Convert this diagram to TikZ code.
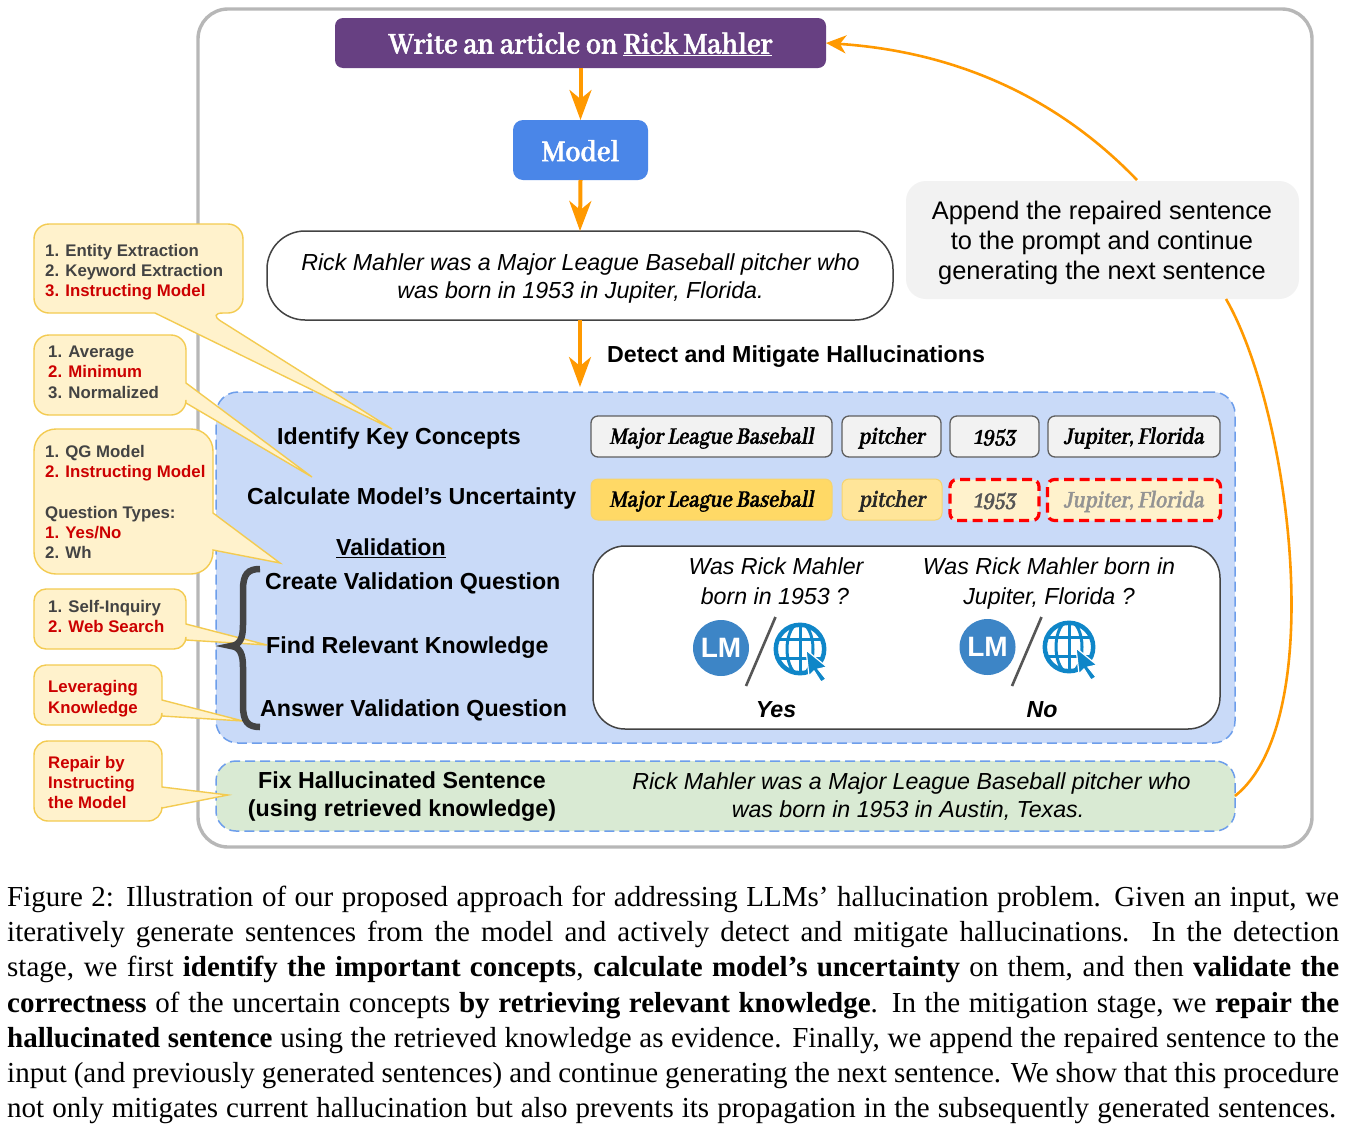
\documentclass[tikz,border=0pt]{standalone}
\usepackage{fontspec}
\usetikzlibrary{arrows.meta}
\setmainfont{Liberation Serif}
\newfontfamily\sansf{Liberation Sans}
\newfontfamily\headf[FakeBold=1.6,FakeStretch=0.91]{Abhaya Libre}
\newfontfamily\chipf[FakeBold=1.6,FakeSlant=0.18,FakeStretch=0.85]{Abhaya Libre}
\definecolor{orangeA}{HTML}{FF9900}
\definecolor{frameG}{HTML}{B7B7B7}
\definecolor{blueF}{HTML}{C9DAF8}
\definecolor{blueD}{HTML}{6D9EEB}
\definecolor{greenF}{HTML}{D9EAD3}
\definecolor{purp}{HTML}{674082}
\definecolor{modelB}{HTML}{4A86E8}
\definecolor{dk}{HTML}{434343}
\definecolor{redT}{HTML}{CC0000}
\definecolor{calF}{HTML}{FFF2CC}
\definecolor{calD}{HTML}{F1C232}
\definecolor{chipA}{HTML}{FFD966}
\definecolor{chipB}{HTML}{FFE599}
\definecolor{lmB}{HTML}{3D85C6}
\definecolor{webB}{HTML}{0F86C8}
\newcommand\sz[1]{\fontsize{#1}{#1}\selectfont}
\newcommand\capline[3]{\node[anchor=base west,inner sep=0pt] (#1) at (7,#2) {\sz{29}\hbox to 1332pt{#3}};}
\newcommand\capend[3]{\node[anchor=base west,inner sep=0pt] (#1) at (7,#2) {\sz{29}\hbox to 1329pt{#3}};}
\newcommand\webicon[4]{%
 \begin{scope}[shift={(#1,#2)}]
  \begin{scope}
   \clip (0,0) circle (26);
   \draw[webB,line width=3pt] (0,0) ellipse (13 and 26);
   \draw[webB,line width=3pt] (0,-26)--(0,26) (-26,-10)--(26,-10) (-26,9)--(26,9);
  \end{scope}
  \draw[webB,line width=4.5pt] (0,0) circle (24.2);
  \draw[fill=webB,draw=white,line width=1.2pt] (#3,#4)--++(21,17)--++(-9,2)--++(8,10)--++(-5,3)--++(-7,-11)--++(-5,5)--cycle;
 \end{scope}}
\tikzset{
 bx/.style={inner sep=0pt,outer sep=0pt,rectangle},
 strutted/.style={text height=7.2pt,text depth=2pt,inner sep=0pt},
 lbl/.style={font=\sansf\bfseries\sz{23.2},text=black,strutted,yshift=-6pt},
 itl/.style={font=\sansf\itshape\sz{23.2},text=black,strutted,yshift=-6pt},
 gr/.style={font=\sansf\sz{25.4},strutted,yshift=-6pt},
 calltxt/.style={font=\sansf\bfseries\sz{16.8},anchor=west,text=dk,strutted,yshift=-4pt},
 callred/.style={calltxt,text=redT},
 callout/.style={fill=calF,draw=calD!85!white,line width=1.4pt,line join=miter},
 flow/.style={draw=orangeA,line width=4pt,-{Stealth[length=30pt,width=22pt,inset=9pt]}},
 back/.style={draw=orangeA,line width=2.6pt},
 chip/.style={bx,rounded corners=7pt,minimum height=41pt,font=\chipf\bfseries\sz{26},text height=14.5pt,text depth=0pt},
 chipg/.style={chip,fill=gray!10,draw=dk!85!white,line width=1.3pt},
 chipy/.style={chip,draw=calD!70!white,line width=1pt},
 chipr/.style={chip,fill=calF,draw=red,dashed,dash pattern=on 10pt off 5.5pt,line width=3.2pt},
}
\begin{document}
\begin{tikzpicture}[x=1pt,y=-1pt]
\useasboundingbox[fill=white] (0,0) rectangle (1349,1130);
% frame
\draw[frameG,line width=3.4pt,rounded corners=30pt] (198,9) rectangle (1312,847);
% regions
\node[bx,fill=blueF,draw=blueD,dashed,dash pattern=on 10pt off 5pt,line width=1.5pt,rounded corners=22pt,minimum width=1019pt,minimum height=351pt] (detect) at (725.5,567.5) {};
\node[bx,fill=greenF,draw=blueD,dashed,dash pattern=on 10pt off 5pt,line width=1.5pt,rounded corners=20pt,minimum width=1019pt,minimum height=70pt] (fix) at (725.5,796) {};
% top boxes
\node[bx,fill=purp,rounded corners=8pt,minimum width=491pt,minimum height=50pt,text=white,font=\headf\bfseries\sz{33},text height=21pt,text depth=0pt] (prompt) at (580.5,43) {Write an article on \underline{Rick Mahler}};
\node[bx,fill=modelB,rounded corners=10pt,minimum width=135pt,minimum height=60pt,text=white,font=\headf\bfseries\sz{33},text height=22pt,text depth=0pt] (model) at (580.5,150) {Model};
\node[bx,fill=white,draw=dk,line width=1.5pt,rounded corners=38pt,minimum width=626pt,minimum height=89pt] (pill) at (580,275.5) {};
\node[itl] (p1) at (580.5,262) {Rick Mahler was a Major League Baseball pitcher who};
\node[itl] (p2) at (580.5,290) {was born in 1953 in Jupiter, Florida.};
\node[bx,fill=gray!10,rounded corners=20pt,minimum width=393pt,minimum height=118pt] (append) at (1102.5,240) {};
\node[gr] (a1) at (1102,211) {Append the repaired sentence};
\node[gr] (a2) at (1102,241) {to the prompt and continue};
\node[gr] (a3) at (1102,271) {generating the next sentence};
% arrows
\coordinate (detecttop) at (580,387);
\draw[flow] (prompt.south) -- (model.north);
\draw[flow] (model.south) -- (pill.north);
\draw[flow] (pill.south) -- (detecttop);
\coordinate (aout) at (1137,180);
\draw[back,-{Stealth[length=20pt,width=18pt,inset=6pt]}] (aout) .. controls (1060,100) and (960,52) .. (prompt.east |- 0,43);
\coordinate (aback) at (1226,299);
\coordinate (fixout) at (1235,796);
\draw[back] (aback) .. controls (1290,410) and (1330,720) .. (fixout);
\node[lbl,anchor=west] (dm) at (607,354) {Detect and Mitigate Hallucinations};
% labels
\node[lbl,anchor=west] (l1) at (277,436) {Identify Key Concepts};
\node[lbl,anchor=west] (l2) at (247,496) {Calculate Model’s Uncertainty};
\node[lbl,anchor=west] (l3) at (336,547) {\underline{Validation}};
\node[lbl,anchor=west] (l4) at (265,581) {Create Validation Question};
\node[lbl,anchor=west] (l5) at (266,645) {Find Relevant Knowledge};
\node[lbl,anchor=west] (l6) at (260,708) {Answer Validation Question};
\node[lbl] (f1) at (402,780) {Fix Hallucinated Sentence};
\node[lbl] (f2) at (402,808) {(using retrieved knowledge)};
\node[itl] (g1) at (911.5,781) {Rick Mahler was a Major League Baseball pitcher who};
\node[itl] (g2) at (908,809) {was born in 1953 in Austin, Texas.};
% chips
\node[chipg,minimum width=241pt] (c1) at (711.5,436.5) {Major League Baseball};
\node[chipg,minimum width=99pt] (c2) at (891.5,436.5) {pitcher};
\node[chipg,minimum width=89pt] (c3) at (994.5,436.5) {1953};
\node[chipg,minimum width=172pt] (c4) at (1134,436.5) {Jupiter, Florida};
\node[chipy,fill=chipA,minimum width=241pt] (d1) at (711.5,499.5) {Major League Baseball};
\node[chipy,fill=chipB,minimum width=100pt,text=black!85] (d2) at (892,499.5) {pitcher};
\node[chipr,minimum width=89pt,text=dk!90] (d3) at (994.5,500) {1953};
\node[chipr,minimum width=173pt,text=gray!85] (d4) at (1134,500) {Jupiter, Florida};
% questions
\node[bx,fill=white,draw=dk,line width=1.5pt,rounded corners=32pt,minimum width=627pt,minimum height=183pt] (qbox) at (906.5,637.5) {};
\node[itl] (q1) at (776,566) {Was Rick Mahler};
\node[itl] (q2) at (775,596) {born in 1953 ?};
\node[itl] (q3) at (1049,566) {Was Rick Mahler born in};
\node[itl] (q4) at (1049,596) {Jupiter, Florida ?};
\node[font=\sansf\bfseries\itshape\sz{23.2},strutted,yshift=-6pt] (y) at (776,709) {Yes};
\node[font=\sansf\bfseries\itshape\sz{23.2},strutted,yshift=-6pt] (n) at (1042,709) {No};
\node[circle,fill=lmB,minimum size=56pt,inner sep=0pt,text=white,font=\sansf\bfseries\sz{28}] (lm1) at (721,648) {LM};
\node[circle,fill=lmB,minimum size=56pt,inner sep=0pt,text=white,font=\sansf\bfseries\sz{28}] (lm2) at (987.5,647) {LM};
\draw[dk!90!white,line width=2.6pt] (746,686) -- (775.5,617);
\draw[dk!90!white,line width=2.6pt] (1012,686) -- (1041.5,617);
\webicon{800}{649}{6}{1}
\webicon{1069}{647}{7}{1}
% callouts
\draw[callout,rounded corners=15pt] (120,224) -- (243,224) -- (243,313) -- (208,313) [sharp corners] -- (392,429) -- (155,313) [rounded corners=15pt] -- (34,313) -- (34,224) -- cycle;
\node[calltxt] (t11) at (45,250) {1. Entity Extraction};
\node[calltxt] (t12) at (45,270) {2. Keyword Extraction};
\node[callred] (t13) at (45,290) {3. Instructing Model};
\draw[callout,rounded corners=15pt] (100,335) -- (186,335) [sharp corners] -- (186,383) -- (312,477) -- (186,403) [rounded corners=15pt] -- (186,415) -- (34,415) -- (34,335) -- cycle;
\node[calltxt] (t21) at (48,351) {1. Average};
\node[callred] (t22) at (48,371) {2. Minimum};
\node[calltxt] (t23) at (48,392) {3. Normalized};
\draw[callout,rounded corners=22pt] (100,429) -- (213,429) [sharp corners] -- (213,513) -- (280,563) -- (213,550) [rounded corners=22pt] -- (213,574) -- (34,574) -- (34,429) -- cycle;
\node[calltxt] (t31) at (45,451) {1. QG Model};
\node[callred] (t32) at (45,471) {2. Instructing Model};
\node[calltxt] (t33) at (45,512) {Question Types:};
\node[callred] (t34) at (45,532) {1. Yes/No};
\node[calltxt] (t35) at (45,552) {2. Wh};
\draw[callout,rounded corners=12pt] (100,589) -- (186,589) [sharp corners] -- (186,624) -- (267,645) -- (186,640) [rounded corners=12pt] -- (186,649) -- (34,649) -- (34,589) -- cycle;
\node[calltxt] (t41) at (48,606) {1. Self-Inquiry};
\node[callred] (t42) at (48,626) {2. Web Search};
\draw[callout,rounded corners=12pt] (100,665) -- (162,665) [sharp corners] -- (162,700) -- (243,721) -- (162,716) [rounded corners=12pt] -- (162,725) -- (34,725) -- (34,665) -- cycle;
\node[callred] (t51) at (48,686) {Leveraging};
\node[callred] (t52) at (48,707) {Knowledge};
\draw[callout,rounded corners=14pt] (100,741) -- (162,741) [sharp corners] -- (162,787) -- (228,795) -- (162,808) [rounded corners=14pt] -- (162,821) -- (34,821) -- (34,741) -- cycle;
\node[callred] (t61) at (48,762) {Repair by};
\node[callred] (t62) at (48,782) {Instructing};
\node[callred] (t63) at (48,802) {the Model};
% brace
\draw[dk,line width=6.5pt] (260,569) .. controls (248,569) and (243,574) .. (243,590) -- (243,625) .. controls (243,638) and (240,645) .. (231,646) .. controls (240,647) and (243,654) .. (243,667) -- (243,705) .. controls (243,722) and (248,727) .. (260,727);
% caption
\capline{cap1}{906}{Figure 2: Illustration of our proposed approach for addressing LLMs’ hallucination problem. Given an input, we}
\capline{cap2}{941}{iteratively generate sentences from the model and actively detect and mitigate hallucinations.\ \ In the detection}
\capline{cap3}{976}{stage, we first \textbf{identify the important concepts}, \textbf{calculate model’s uncertainty} on them, and then \textbf{validate the}}
\capline{cap4}{1012}{\textbf{correctness} of the uncertain concepts \textbf{by retrieving relevant knowledge}. In the mitigation stage, we \textbf{repair the}}
\capline{cap5}{1047}{\textbf{hallucinated sentence} using the retrieved knowledge as evidence. Finally, we append the repaired sentence to the}
\capline{cap6}{1082}{input (and previously generated sentences) and continue generating the next sentence. We show that this procedure}
\capend{cap7}{1117}{not only mitigates current hallucination but also prevents its propagation in the subsequently generated sentences.}
\end{tikzpicture}
\end{document}
